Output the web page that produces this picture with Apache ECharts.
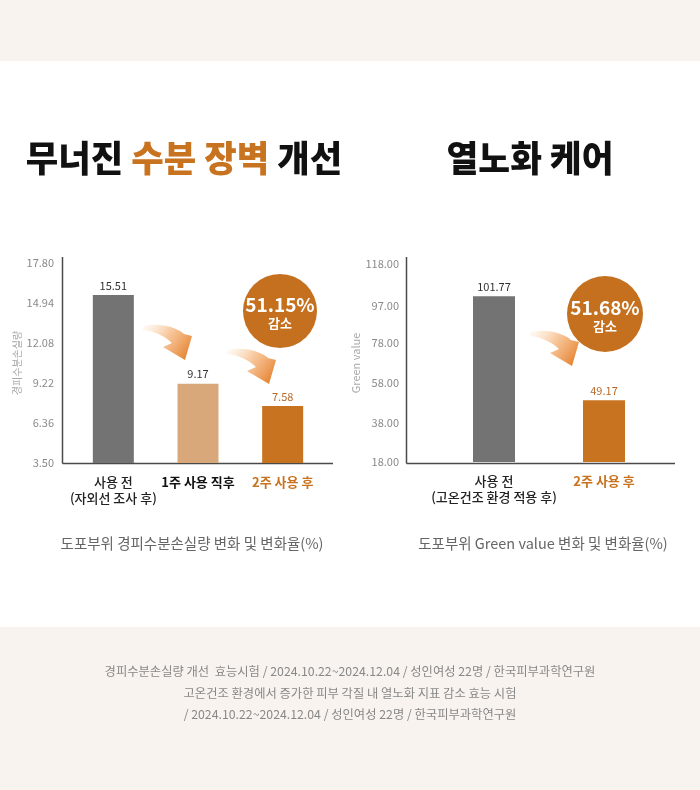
<!DOCTYPE html>
<html>
<head>
<meta charset="utf-8">
<script src="https://cdn.jsdelivr.net/npm/echarts@6/dist/echarts.min.js"></script>
<style>
  html, body { margin: 0; padding: 0; }
  #chart {
    width: 700px; height: 790px;
    background: linear-gradient(#f8f3ef 0, #f8f3ef 61px, #fff 61px, #fff 627px, #f8f3ef 627px);
  }
</style>
</head>
<body>
<div id="chart"></div>
<script>
// left chart: transepidermal water loss
const leftCategories = ["사용 전\n(자외선 조사 후)", "1주 사용 직후", "2주 사용 후"];
const leftValues = [15.51, 9.17, 7.58];
const leftTicks = [3.5, 6.36, 9.22, 12.08, 14.94, 17.8];
const leftDrop = "51.15%";

// right chart: green value
const rightCategories = ["사용 전\n(고온건조 환경 적용 후)", "2주 사용 후"];
const rightValues = [101.77, 49.17];
const rightTicks = [18, 38, 58, 78, 97, 118];
const rightDrop = "51.68%";

const FONT = "'Noto Sans CJK KR', 'Noto Sans', sans-serif";
const ORANGE = "#c8731f";
const BADGE = "#c4701e";

const leftColors = ["#737373", "#d8a87b", ORANGE];
const leftLabelColors = ["#333", "#333", "#b8692a"];
const leftCatStyle = ["n", "b", "o"];
const rightColors = ["#737373", ORANGE];
const rightLabelColors = ["#333", "#b8692a"];
const rightCatStyle = ["n", "o"];

// curved "decrease" arrow, tail at local origin
echarts.graphic.registerShape("curveArrow", echarts.graphic.extendShape({
  shape: {},
  buildPath(ctx) {
    ctx.moveTo(0, 0);
    ctx.bezierCurveTo(14, -3, 32, 0, 41, 8);
    ctx.lineTo(49, 10);
    ctx.lineTo(42, 34);
    ctx.lineTo(20, 21);
    ctx.lineTo(29, 17);
    ctx.bezierCurveTo(21, 9, 10, 5, 0, 4);
    ctx.closePath();
  },
}));

const chart = echarts.init(document.getElementById("chart"), null, { renderer: "canvas" });

const catRich = {
  n: { fontFamily: FONT, fontSize: 13, color: "#222", fontWeight: 500, lineHeight: 16 },
  b: { fontFamily: FONT, fontSize: 13, color: "#111", fontWeight: "bold", lineHeight: 16 },
  o: { fontFamily: FONT, fontSize: 13, color: ORANGE, fontWeight: "bold", lineHeight: 16 },
};

function catFormatter(styles) {
  return (v, i) => v.split("\n").map(s => `{${styles[i]}|${s}}`).join("\n");
}

function yAxisOpt(gridIndex, min, max, ticks, name, nameGap, margin, nameSize) {
  return {
    type: "value", gridIndex, min, max,
    name, nameLocation: "middle", nameRotate: 90, nameGap,
    nameTextStyle: { fontFamily: FONT, fontSize: nameSize, color: "#a8a8a8" },
    axisLine: { show: false }, axisTick: { show: false }, splitLine: { show: false },
    axisLabel: {
      customValues: ticks, margin,
      formatter: v => v.toFixed(2),
      fontFamily: FONT, fontSize: 11, color: "#8a8a8a",
    },
  };
}

function xAxisOpt(gridIndex, data, styles) {
  return {
    type: "category", gridIndex, data,
    axisLine: { show: false }, axisTick: { show: false },
    axisLabel: { margin: 11, interval: 0, formatter: catFormatter(styles), rich: catRich },
  };
}

function barSeries(idx, values, colors, labelColors, width) {
  return {
    type: "bar", xAxisIndex: idx, yAxisIndex: idx, barWidth: width,
    data: values.map((v, i) => ({
      value: v,
      itemStyle: { color: colors[i] },
      label: { color: labelColors[i] },
    })),
    label: {
      show: true, position: "top", distance: 4,
      formatter: p => p.value.toFixed(2),
      fontFamily: FONT, fontSize: 11,
    },
    silent: true,
  };
}

function axisLines(x0, x1, yTop, yBot) {
  const st = { stroke: "#4a4a4a", lineWidth: 1.5 };
  return [
    { type: "line", shape: { x1: x0, y1: yTop, x2: x0, y2: yBot }, style: st },
    { type: "line", shape: { x1: x0, y1: yBot, x2: x1, y2: yBot }, style: st },
  ];
}

function badge(cx, cy, r, pct) {
  return [
    { type: "circle", shape: { cx, cy, r }, style: { fill: BADGE }, z: 10 },
    { type: "text", x: cx, y: cy - 6, z: 11,
      style: { text: pct, fill: "#fff", font: `bold 19px ${FONT}`, align: "center", verticalAlign: "middle" } },
    { type: "text", x: cx, y: cy + 12, z: 11,
      style: { text: "감소", fill: "#fff", font: `bold 13px ${FONT}`, align: "center", verticalAlign: "middle" } },
  ];
}

function arrow(x, y) {
  return {
    type: "curveArrow", x, y, z: 9,
    shape: {},
    style: {
      fill: new echarts.graphic.LinearGradient(0, 0, 1, 1, [
        { offset: 0, color: "rgba(246,190,130,0.05)" },
        { offset: 0.45, color: "rgba(240,150,70,0.55)" },
        { offset: 1, color: "#e0741a" },
      ]),
    },
  };
}

function centerText(x, y, text, font, fill) {
  return { type: "text", x, y, style: { text, font, fill, align: "center", verticalAlign: "middle" } };
}

const titleRich = {
  a: { fontFamily: FONT, fontSize: 36, fontWeight: 900, fill: "#111" },
  b: { fontFamily: FONT, fontSize: 36, fontWeight: 900, fill: ORANGE },
};

chart.setOption({
  animation: false,
  grid: [
    { left: 71, right: 375, top: 263, bottom: 327 },
    { left: 439, right: 41, top: 264, bottom: 328 },
  ],
  xAxis: [xAxisOpt(0, leftCategories, leftCatStyle), xAxisOpt(1, rightCategories, rightCatStyle)],
  yAxis: [
    yAxisOpt(0, 3.5, 17.8, leftTicks, "경피수분손실량", 49, 17, 10),
    yAxisOpt(1, 18, 118, rightTicks, "Green value", 71, 40, 11),
  ],
  series: [
    barSeries(0, leftValues, leftColors, leftLabelColors, 41),
    barSeries(1, rightValues, rightColors, rightLabelColors, 42),
  ],
  graphic: [
    ...axisLines(62.5, 333, 257, 463.5),
    ...axisLines(406.5, 675, 257, 463.5),
    { type: "text", x: 184, y: 158, scaleX: 0.98,
      style: { text: "{a|무너진 }{b|수분 장벽}{a| 개선}", rich: titleRich, align: "center", verticalAlign: "middle" } },
    { type: "text", x: 530, y: 158, scaleX: 0.96,
      style: { text: "{a|열노화 케어}", rich: titleRich, align: "center", verticalAlign: "middle" } },
    arrow(143, 326),
    arrow(227, 350),
    arrow(530, 332),
    ...badge(280, 311, 37, leftDrop),
    ...badge(605, 314, 38, rightDrop),
    centerText(192, 543, "도포부위 경피수분손실량 변화 및 변화율(%)", `14.5px ${FONT}`, "#666"),
    centerText(543, 543, "도포부위 Green value 변화 및 변화율(%)", `14.5px ${FONT}`, "#666"),
    centerText(350, 671, "경피수분손실량 개선  효능시험 / 2024.10.22~2024.12.04 / 성인여성 22명 / 한국피부과학연구원", `12.3px ${FONT}`, "#888"),
    centerText(350, 693, "고온건조 환경에서 증가한 피부 각질 내 열노화 지표 감소 효능 시험", `12.3px ${FONT}`, "#888"),
    centerText(350, 714, "/ 2024.10.22~2024.12.04 / 성인여성 22명 / 한국피부과학연구원", `12.3px ${FONT}`, "#888"),
  ],
});
</script>
</body>
</html>
